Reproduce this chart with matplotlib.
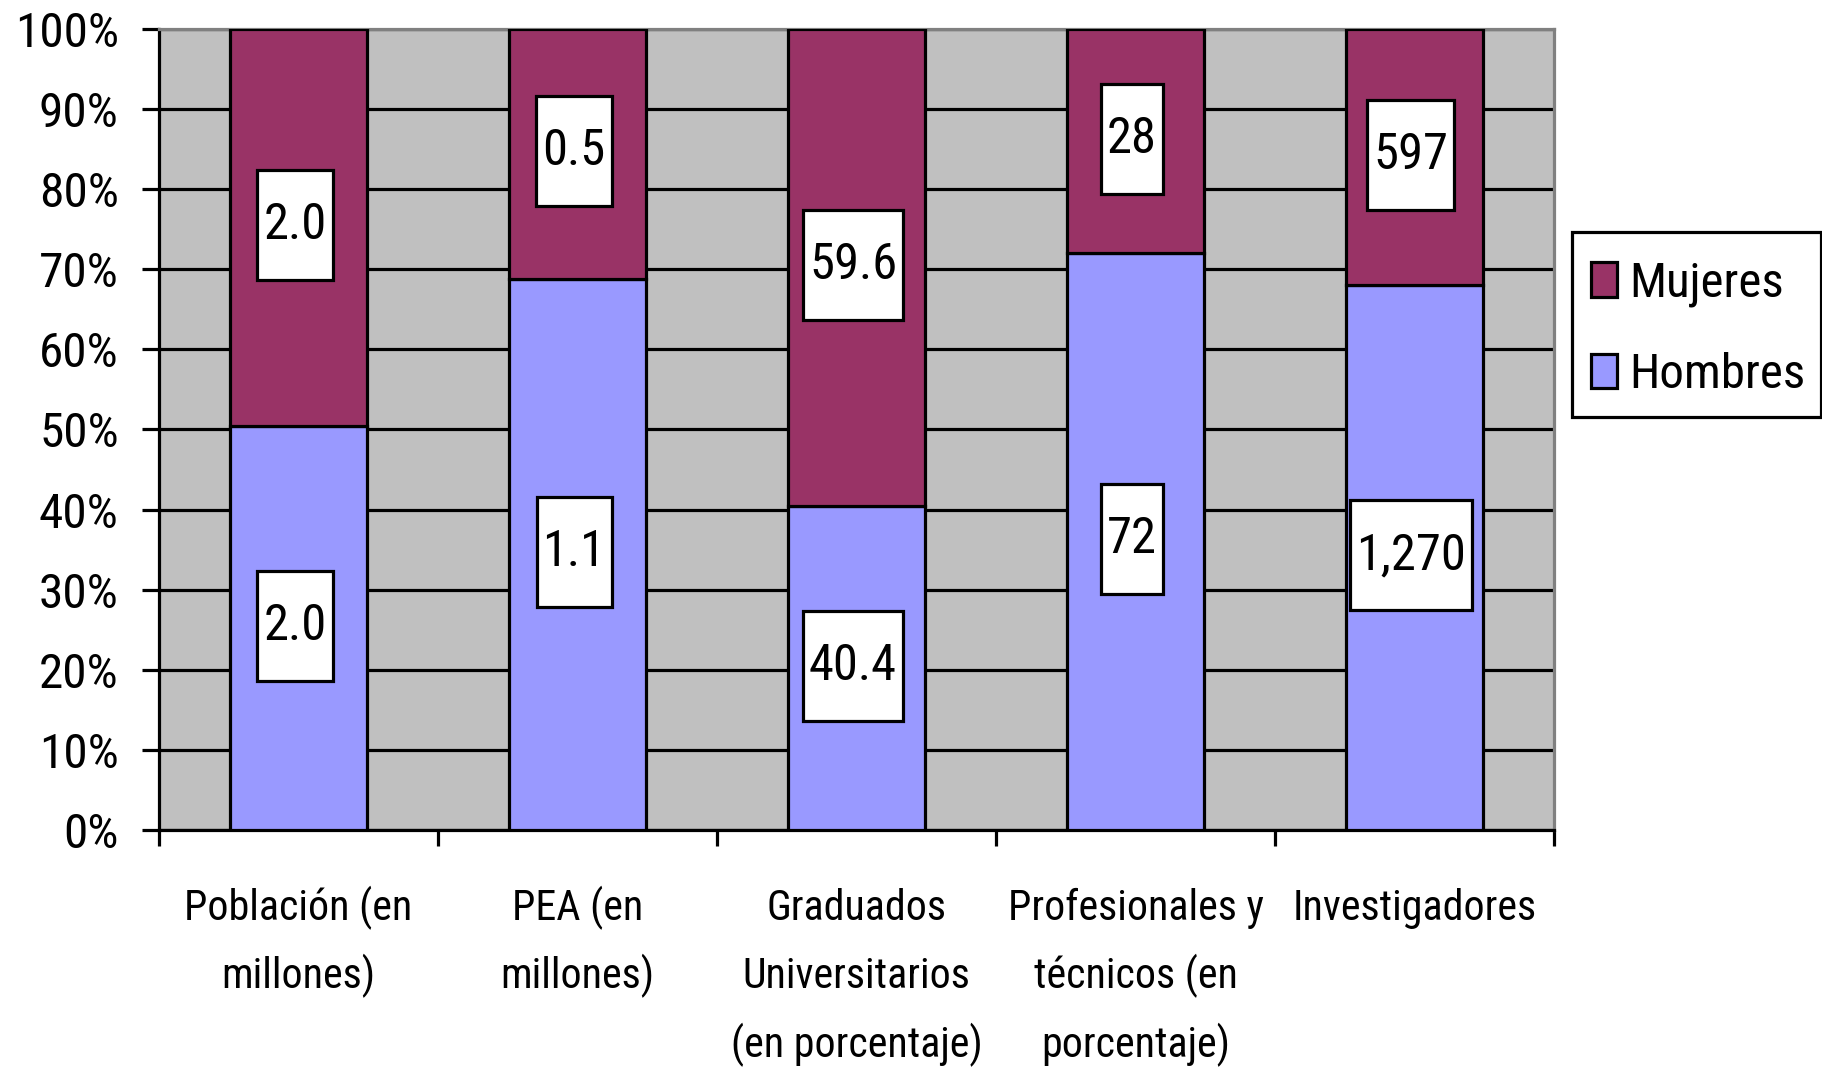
import matplotlib
matplotlib.use("Agg")
import matplotlib.pyplot as plt
from matplotlib import font_manager, transforms
from matplotlib.font_manager import FontProperties
from matplotlib.textpath import TextPath
from matplotlib.path import Path
import numpy as np

# ---- data ----
categories = ["Población (en\nmillones)", "PEA (en\nmillones)",
              "Graduados\nUniversitarios\n(en porcentaje)",
              "Profesionales y\ntécnicos (en\nporcentaje)", "Investigadores"]
hombres_pct = [50.4, 68.8, 40.4, 72.0, 68.0]
mujeres_pct = [49.6, 31.2, 59.6, 28.0, 32.0]
hombres_labels = ["2.0", "1.1", "40.4", "72", "1,270"]
mujeres_labels = ["2.0", "0.5", "59.6", "28", "597"]
series_names = ["Mujeres", "Hombres"]
yticks = list(range(0, 101, 10))
ytick_labels = [f"{v}%" for v in yticks]

# ---- fonts: prefer a narrow Arial-like face ----
avail = {f.name for f in font_manager.fontManager.ttflist}
FONT = "Liberation Sans"
for cand in ["Liberation Sans Narrow", "Arial Narrow", "Nimbus Sans Narrow", "Roboto Condensed"]:
    if cand in avail:
        FONT = cand
        break
plt.rcParams["font.family"] = [FONT, "DejaVu Sans"]
PROP = FontProperties(family=FONT)


def _ink(s):
    e = TextPath((0, 0), s, size=100, prop=PROP).get_extents()
    return e.width, e.height


_CAP = _ink("H")[1]


def size_for(samples, cap_px):
    """font size (pt, at 100 dpi) so that ink widths / cap height match the reference"""
    em = 100 * cap_px / _CAP
    for s, w in samples:
        em = min(em, 100 * w / _ink(s)[0])
    return em * 0.72


FS_TICK = size_for([("100%", 105)], 35)
FS_CAT = size_for([("Profesionales y", 252), ("Población (en", 225)], 35)
FS_DATA = size_for([("1,270", 104), ("59.6", 82)], 36)
FS_LEG = size_for([("Hombres", 170)], 38)

C_M = "#993366"
C_H = "#9999FF"
BG = "#C0C0C0"
LW = 2.3

fig = plt.figure(figsize=(18.22, 10.69), dpi=100)
ax = fig.add_axes([0.0873, 0.2236, 0.7656, 0.7493])
ax.set_facecolor(BG)

x = np.arange(len(categories))
b1 = ax.bar(x, hombres_pct, width=0.49, color=C_H, edgecolor="black", linewidth=LW, zorder=3)
b2 = ax.bar(x, mujeres_pct, width=0.49, bottom=hombres_pct, color=C_M,
            edgecolor="black", linewidth=LW, zorder=3)

ax.set_xlim(-0.5, len(categories) - 0.5)
ax.set_ylim(0, 100)
ax.set_yticks(yticks)
ax.set_yticklabels(ytick_labels)
ax.yaxis.grid(True, color="black", linewidth=LW, zorder=1)
ax.set_axisbelow(True)

ax.set_xticks(np.arange(-0.5, len(categories), 1.0))
ax.set_xticklabels([])
ax.tick_params(axis="x", direction="out", length=11.5, width=LW)
ax.tick_params(axis="y", direction="out", length=12, width=LW, labelsize=FS_TICK, pad=17)

for s in ["left", "bottom"]:
    ax.spines[s].set_color("black")
    ax.spines[s].set_linewidth(LW)
for s in ["top", "right"]:
    ax.spines[s].set_color("#808080")
    ax.spines[s].set_linewidth(LW)

# category labels: first baseline 90 px below the axis, baselines 68.5 px apart
for i, c in enumerate(categories):
    for k, line in enumerate(c.split("\n")):
        tr = transforms.offset_copy(ax.get_xaxis_transform(), fig=fig, x=0,
                                    y=-(90 + 68.5 * k) * 0.72, units="points")
        ax.text(x[i], 0, line, transform=tr, ha="center", va="baseline",
                fontsize=FS_CAT, clip_on=False)


def label_box(x0, y0, width, height, mutation_size):
    px = 6.0
    cy = y0 + height / 2.0
    half = 55.0
    xa, xb = x0 - px, x0 + width + px
    ya, yb = cy - half, cy + half
    return Path([(xa, ya), (xb, ya), (xb, yb), (xa, yb), (xa, ya)], closed=True)


box = dict(boxstyle=label_box, facecolor="white", edgecolor="black", linewidth=LW)
lab_tr = transforms.offset_copy(ax.transData, fig=fig, x=-3.5 * 0.72, y=2.5 * 0.72, units="points")
for i in range(len(categories)):
    ax.text(x[i], hombres_pct[i] / 2, hombres_labels[i], ha="center", va="center",
            fontsize=FS_DATA, bbox=box, zorder=5, transform=lab_tr)
    ax.text(x[i], hombres_pct[i] + mujeres_pct[i] / 2, mujeres_labels[i], ha="center",
            va="center", fontsize=FS_DATA, bbox=box, zorder=5, transform=lab_tr)

# legend metrics
renderer = fig.canvas.get_renderer()
_, lh, ld = renderer.get_text_width_height_descent(
    "lp", FontProperties(family=FONT, size=FS_LEG), ismath=False)
em = FS_LEG / 0.72
leg = ax.legend(handles=[b2, b1], labels=series_names, loc="upper left",
                bbox_to_anchor=(1572 / 1822, 1 - 242 / 1069), bbox_transform=fig.transFigure,
                borderaxespad=0, frameon=True, fancybox=False, edgecolor="black",
                fontsize=FS_LEG, handlelength=26 / em, handleheight=34 / em,
                handletextpad=13 / em, labelspacing=(91 - lh) / em, borderpad=0.38,
                framealpha=1)


def legend_frame(x0, y0, width, height, mutation_size):
    # a little more room above the entries than below, as in the reference
    xa, xb = x0, x0 + width - 3.0
    ya, yb = y0, y0 + height + 10.0
    return Path([(xa, ya), (xb, ya), (xb, yb), (xa, yb), (xa, ya)], closed=True)


leg.get_frame().set_boxstyle(legend_frame)
leg.get_frame().set_linewidth(LW)

fig.savefig("out.png", dpi=100)
